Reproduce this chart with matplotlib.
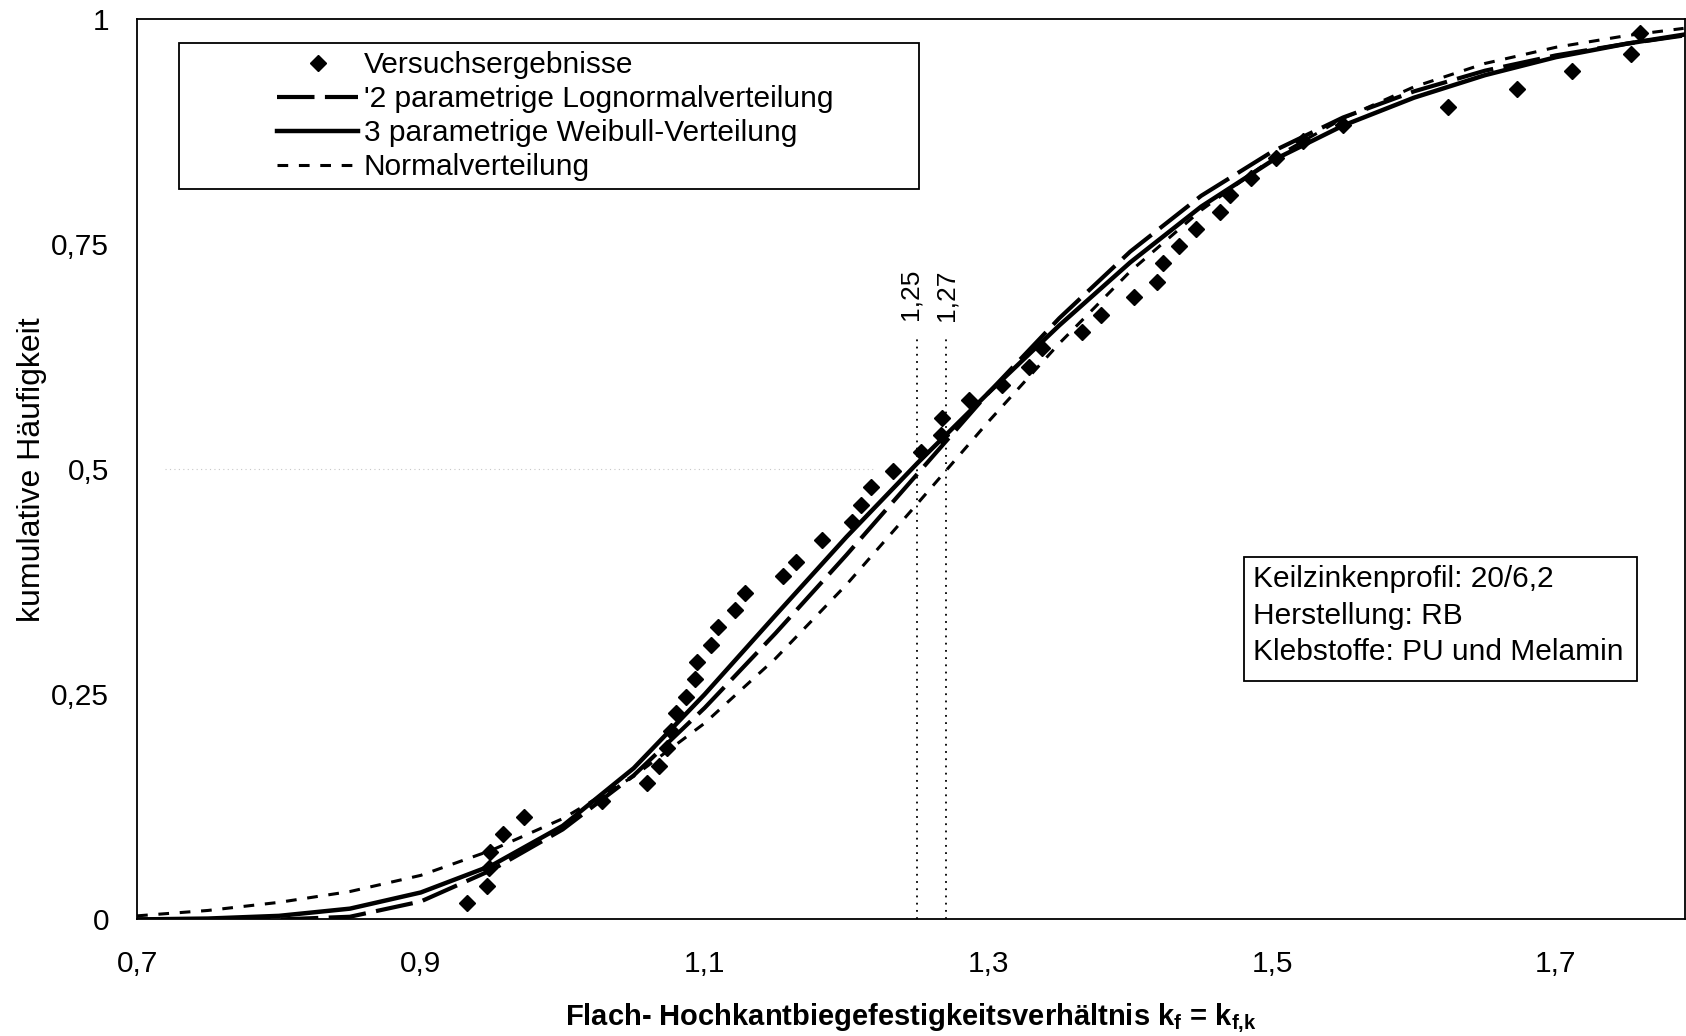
import matplotlib.pyplot as plt
from matplotlib.patches import Rectangle

plt.rcParams['font.family'] = ['Liberation Sans', 'DejaVu Sans']

# Versuchsergebnisse (sortiert)
kf_test = [0.9325, 0.9466, 0.9482, 0.9487, 0.9576, 0.9729, 1.0276, 1.0597,
           1.068, 1.0736, 1.0765, 1.0798, 1.0868, 1.0933, 1.0943, 1.1044,
           1.1096, 1.1213, 1.1286, 1.1553, 1.1643, 1.1826, 1.2042, 1.2101,
           1.2171, 1.2328, 1.2523, 1.2664, 1.2676, 1.2864, 1.3098, 1.3286,
           1.3380, 1.3662, 1.3791, 1.4026, 1.4190, 1.4232, 1.4343, 1.4461,
           1.4630, 1.470, 1.485, 1.503, 1.522, 1.550, 1.624, 1.6726,
           1.7113, 1.7532, 1.7595]
F_test = [0.0186, 0.0374, 0.0571, 0.0752, 0.0946, 0.1141, 0.1319, 0.1519,
          0.171, 0.190, 0.209, 0.229, 0.2474, 0.2671, 0.2863, 0.3049,
          0.3252, 0.3438, 0.3630, 0.3816, 0.3974, 0.4216, 0.4419, 0.4604,
          0.4801, 0.4986, 0.5197, 0.5382, 0.5568, 0.5771, 0.5938, 0.6134,
          0.6346, 0.6530, 0.6716, 0.6919, 0.7086, 0.7297, 0.7482, 0.7671,
          0.7863, 0.805, 0.824, 0.846, 0.865, 0.883, 0.903, 0.9223,
          0.9427, 0.9612, 0.9846]

# angepasste Verteilungsfunktionen
kf_fit = [0.70, 0.75, 0.80, 0.85, 0.90, 0.95, 1.00, 1.05, 1.10, 1.15, 1.20,
          1.25, 1.30, 1.35, 1.40, 1.45, 1.50, 1.55, 1.60, 1.65, 1.70, 1.75, 1.79]
F_lognorm = [0.000, 0.000, 0.000, 0.003, 0.020, 0.055, 0.100, 0.160, 0.235,
             0.318, 0.405, 0.495, 0.585, 0.668, 0.742, 0.804, 0.853, 0.891,
             0.920, 0.943, 0.960, 0.973, 0.982]
F_weibull = [0.000, 0.001, 0.004, 0.012, 0.030, 0.060, 0.104, 0.168, 0.250,
             0.338, 0.425, 0.507, 0.585, 0.660, 0.730, 0.792, 0.843, 0.882,
             0.913, 0.938, 0.958, 0.973, 0.983]
F_normal = [0.004, 0.010, 0.019, 0.031, 0.049, 0.077, 0.112, 0.159, 0.218,
            0.290, 0.372, 0.462, 0.553, 0.640, 0.720, 0.788, 0.845, 0.890,
            0.925, 0.951, 0.969, 0.982, 0.990]

kf_marks = [1.25, 1.27]
mark_labels = ['1,25', '1,27']

x_ticks = [0.7, 0.9, 1.1, 1.3, 1.5, 1.7]
x_ticklabels = ['0,7', '0,9', '1,1', '1,3', '1,5', '1,7']
y_ticks = [0, 0.25, 0.5, 0.75, 1]
y_ticklabels = ['0', '0,25', '0,5', '0,75', '1']

info_lines = ['Keilzinkenprofil: 20/6,2', 'Herstellung: RB', 'Klebstoffe: PU und Melamin']

fig = plt.figure(figsize=(16.86, 10.36), dpi=100)
ax = fig.add_axes([0.0813, 0.1125, 0.9181, 0.8688])

# schwache Rasterlinie bei 0,5
ax.plot([0.72, 1.22], [0.5, 0.5], color='#c8c8c8', lw=0.8, ls=(0, (1, 3)))

ax.plot(kf_test, F_test, ls='none', marker='D', ms=8.5, color='black',
        label='Versuchsergebnisse', zorder=4)
ax.plot(kf_fit, F_lognorm, color='black', lw=3.0, ls=(0, (9, 2.5)),
        label="'2 parametrige Lognormalverteilung", zorder=3)
ax.plot(kf_fit, F_weibull, color='black', lw=3.2, ls='-',
        label='3 parametrige Weibull-Verteilung', zorder=3)
ax.plot(kf_fit, F_normal, color='black', lw=2.2, ls=(0, (3.5, 3.5)),
        label='Normalverteilung', zorder=3)

for xm in kf_marks:
    ax.plot([xm, xm], [0, 0.645], color='black', lw=1.3, ls=(0, (1, 3)))
for xm, lab in zip([1.2454, 1.2704], mark_labels):
    ax.text(xm, 0.694, lab, rotation=90, ha='center', va='center', fontsize=19)

ax.set_xlim(0.7, 1.791)
ax.set_ylim(0, 1)
ax.set_xticks(x_ticks)
ax.set_xticklabels(x_ticklabels)
ax.set_yticks(y_ticks)
ax.set_yticklabels(y_ticklabels)
ax.tick_params(length=0, labelsize=21.5)
ax.tick_params(axis='x', pad=22)
ax.tick_params(axis='y', pad=20)
for sp in ax.spines.values():
    sp.set_linewidth(1.3)

ax.set_ylabel('kumulative Häufigkeit', fontsize=23,
              family=['Liberation Sans Narrow', 'Liberation Sans'])
ax.yaxis.set_label_coords(-0.058, 0.5)
ax.set_xlabel(r'Flach- Hochkantbiegefestigkeitsverhältnis k$_\mathregular{f}$ = k$_\mathregular{f{,}k}$',
              fontsize=21, fontweight='bold', labelpad=17)

# Legende mit eigenem Rahmen
ax.add_patch(Rectangle((0.0268, 0.8112), 0.4783, 0.1626, transform=ax.transAxes,
                       fill=False, ec='black', lw=1.3, zorder=5))
ax.legend(loc='upper left', bbox_to_anchor=(0.0906, 0.9646), borderaxespad=0,
          borderpad=0, fontsize=21.5, handlelength=2.7, handletextpad=0.2,
          labelspacing=0.2, frameon=False)

# Angaben zu den Prüfkörpern
ax.add_patch(Rectangle((0.7153, 0.2649), 0.2537, 0.1378, transform=ax.transAxes,
                       fc='white', ec='black', lw=1.3, zorder=5))
ax.text(0.721, 0.3375, '\n'.join(info_lines), transform=ax.transAxes,
        fontsize=21.5, va='center', ha='left', linespacing=1.4, zorder=6)

fig.savefig('out.png', dpi=100)
